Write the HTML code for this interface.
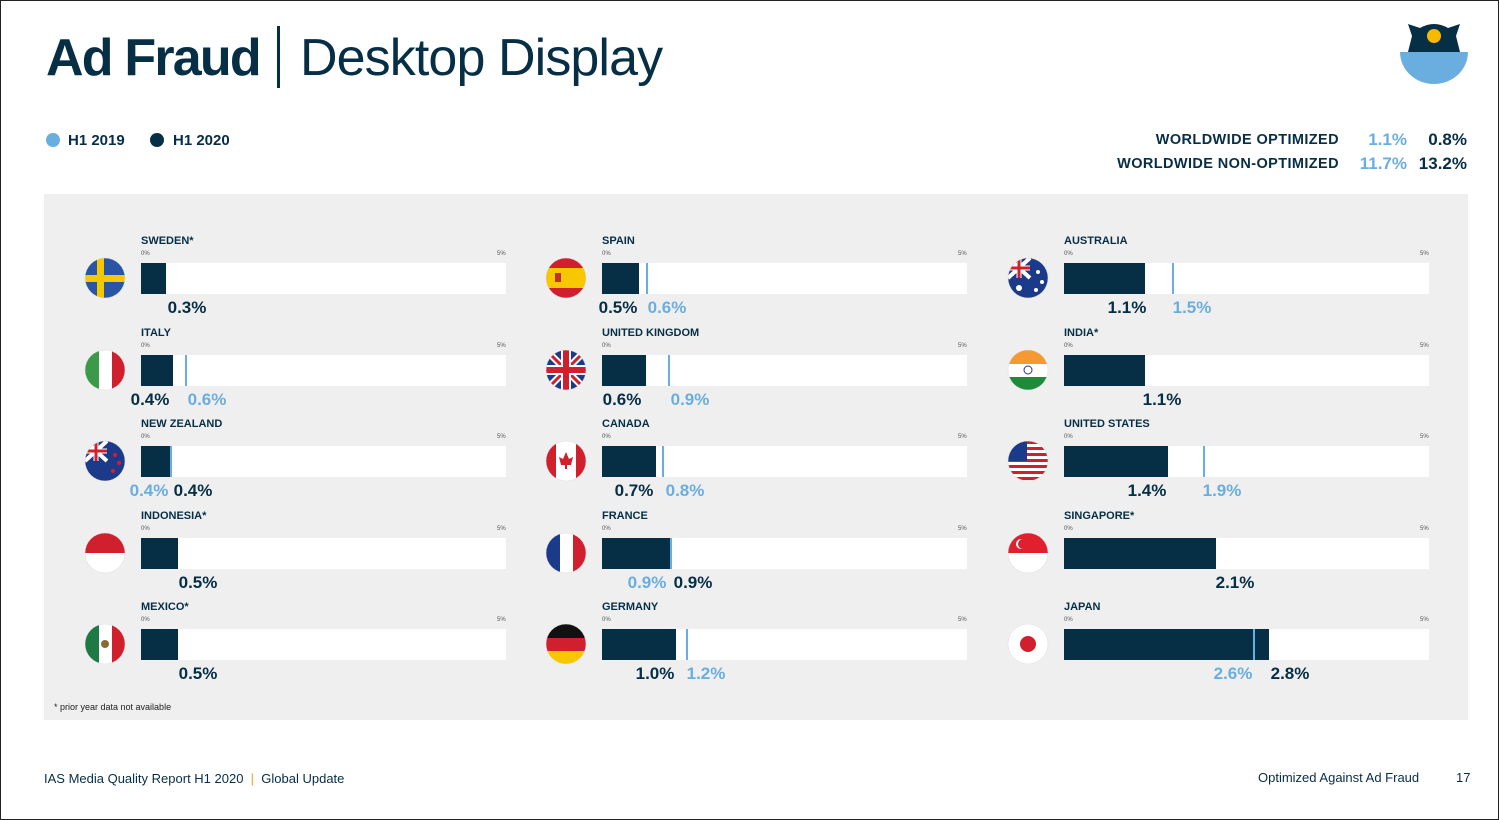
<!DOCTYPE html>
<html><head><meta charset="utf-8"><style>
body{margin:0;width:1499px;height:820px;position:relative;background:#fff;font-family:"Liberation Sans",sans-serif;color:#062e45;overflow:hidden}
.frame{position:absolute;left:0;top:0;width:1497px;height:818px;border:1px solid #222}
.a{position:absolute;white-space:nowrap}
.panel{position:absolute;left:44px;top:194px;width:1424px;height:526px;background:#efefef}
.bar{position:absolute;height:31px;width:365px;background:#fff}
.d{position:absolute;left:0;top:0;height:31px;background:#062e45}
.l{position:absolute;top:0;width:2px;height:31px;background:#6aaee0}
.nm{position:absolute;font-size:11px;font-weight:bold}
.tk{position:absolute;font-size:6px;color:#555}
.v{position:absolute;font-size:17px;font-weight:bold;transform:translateX(-50%)}
.lt{color:#6aaee0}
svg.f{position:absolute}
</style></head><body>
<div class="frame"></div>
<div class="a" style="left:46px;top:28px;font-size:52px;font-weight:bold;letter-spacing:-1.8px">Ad Fraud</div>
<div class="a" style="left:277px;top:26px;width:3px;height:62px;background:#062e45"></div>
<div class="a" style="left:300px;top:28px;font-size:52px;font-weight:normal;letter-spacing:-0.9px">Desktop Display</div>
<svg class="f" style="left:1398px;top:18px" width="72" height="68"><path d="M10 6 L22 10 Q36 2 50 10 L62 6 L58 18 L62 34 L10 34 L14 18Z" fill="#062e45"/><circle cx="36" cy="18" r="7" fill="#f7b900"/><path d="M2 34 H70 A34 32 0 0 1 2 34Z" fill="#6aaee0"/></svg>
<div class="a" style="left:46px;top:133px;width:14px;height:14px;border-radius:50%;background:#6aaee0"></div>
<div class="a" style="left:68px;top:132px;font-size:15px;font-weight:bold">H1 2019</div>
<div class="a" style="left:150px;top:133px;width:14px;height:14px;border-radius:50%;background:#062e45"></div>
<div class="a" style="left:173px;top:132px;font-size:15px;font-weight:bold">H1 2020</div>
<div class="a" style="right:160px;top:132px;font-size:14.5px;font-weight:bold;letter-spacing:0.4px">WORLDWIDE OPTIMIZED</div>
<div class="a" style="right:160px;top:156px;font-size:14.5px;font-weight:bold;letter-spacing:0.4px">WORLDWIDE NON-OPTIMIZED</div>
<div class="a lt" style="right:92px;top:130px;font-size:17px;font-weight:bold">1.1%</div>
<div class="a" style="right:32px;top:130px;font-size:17px;font-weight:bold">0.8%</div>
<div class="a lt" style="right:92px;top:154px;font-size:17px;font-weight:bold">11.7%</div>
<div class="a" style="right:32px;top:154px;font-size:17px;font-weight:bold">13.2%</div>
<div class="panel"></div>
<div id="c"></div>
<div class="a" style="left:54px;top:702px;font-size:9px;color:#222">* prior year data not available</div>
<div class="a" style="left:44px;top:771px;font-size:13px">IAS Media Quality Report H1 2020 &nbsp;<span style="color:#f0a020">|</span>&nbsp; Global Update</div>
<div class="a" style="left:1258px;top:770px;font-size:13px">Optimized Against Ad Fraud</div>
<div class="a" style="left:1456px;top:770px;font-size:13px">17</div>
<script>
const rows=[263,355,446,538,629];
const cols=[141,602,1064];
const fx=[105,566,1028];
const D=[
["SWEDEN*",0,0,166,null,[["0.3%",187,0]],"se"],
["ITALY",0,1,173,186,[["0.4%",150,0],["0.6%",207,1]],"it"],
["NEW ZEALAND",0,2,171,171,[["0.4%",149,1],["0.4%",193,0]],"nz"],
["INDONESIA*",0,3,178,null,[["0.5%",198,0]],"id"],
["MEXICO*",0,4,178,null,[["0.5%",198,0]],"mx"],
["SPAIN",1,0,639,647,[["0.5%",618,0],["0.6%",667,1]],"es"],
["UNITED KINGDOM",1,1,646,669,[["0.6%",622,0],["0.9%",690,1]],"uk"],
["CANADA",1,2,656,663,[["0.7%",634,0],["0.8%",685,1]],"ca"],
["FRANCE",1,3,672,671,[["0.9%",647,1],["0.9%",693,0]],"fr"],
["GERMANY",1,4,676,687,[["1.0%",655,0],["1.2%",706,1]],"de"],
["AUSTRALIA",2,0,1145,1173,[["1.1%",1127,0],["1.5%",1192,1]],"au"],
["INDIA*",2,1,1145,null,[["1.1%",1162,0]],"in"],
["UNITED STATES",2,2,1168,1204,[["1.4%",1147,0],["1.9%",1222,1]],"us"],
["SINGAPORE*",2,3,1216,null,[["2.1%",1235,0]],"sg"],
["JAPAN",2,4,1269,1254,[["2.6%",1233,1],["2.8%",1290,0]],"jp"]];
const UN='<rect width="22" height="20" fill="#1c3a8a"/><path d="M0 0L22 20M22 0L0 20" stroke="#fff" stroke-width="4"/><path d="M11 0V20M0 10H22" stroke="#fff" stroke-width="5"/><path d="M11 0V20M0 10H22" stroke="#d0202e" stroke-width="3"/>';
const F={
se:'<rect width="40" height="40" fill="#2a55a4"/><rect x="12" width="7" height="40" fill="#f7c800"/><rect y="17" width="40" height="7" fill="#f7c800"/>',
it:'<rect width="14" height="40" fill="#3a9a48"/><rect x="14" width="13" height="40" fill="#fff"/><rect x="27" width="13" height="40" fill="#d0202e"/>',
nz:'<rect width="40" height="40" fill="#1c3a8a"/>'+UN+'<circle cx="30" cy="14" r="2" fill="#d0202e"/><circle cx="34" cy="22" r="2" fill="#d0202e"/><circle cx="28" cy="30" r="2" fill="#d0202e"/>',
id:'<rect width="40" height="20" fill="#d0202e"/><rect y="20" width="40" height="20" fill="#fff"/>',
mx:'<rect width="14" height="40" fill="#1e7a44"/><rect x="14" width="13" height="40" fill="#fff"/><rect x="27" width="13" height="40" fill="#d0202e"/><circle cx="20" cy="20" r="4" fill="#8a6a30"/>',
es:'<rect width="40" height="40" fill="#d0202e"/><rect y="10" width="40" height="20" fill="#f7c800"/><rect x="9" y="15" width="6" height="9" fill="#c0302e"/>',
uk:'<rect width="40" height="40" fill="#1c3a8a"/><path d="M0 0L40 40M40 0L0 40" stroke="#fff" stroke-width="7"/><path d="M0 0L40 40M40 0L0 40" stroke="#d0202e" stroke-width="3"/><path d="M20 0V40M0 20H40" stroke="#fff" stroke-width="10"/><path d="M20 0V40M0 20H40" stroke="#d0202e" stroke-width="6"/>',
ca:'<rect width="40" height="40" fill="#fff"/><rect width="10" height="40" fill="#d0202e"/><rect x="30" width="10" height="40" fill="#d0202e"/><path d="M20 11L23 18L27 16L25 24H21V28H19V24H15L13 16L17 18Z" fill="#d0202e"/>',
fr:'<rect width="14" height="40" fill="#1c3a8a"/><rect x="14" width="13" height="40" fill="#fff"/><rect x="27" width="13" height="40" fill="#d0202e"/>',
de:'<rect width="40" height="14" fill="#111"/><rect y="14" width="40" height="13" fill="#d0202e"/><rect y="27" width="40" height="13" fill="#f7c800"/>',
au:'<rect width="40" height="40" fill="#1c3a8a"/>'+UN+'<circle cx="30" cy="14" r="2" fill="#fff"/><circle cx="34" cy="24" r="2" fill="#fff"/><circle cx="28" cy="32" r="2" fill="#fff"/><circle cx="11" cy="30" r="3" fill="#fff"/>',
in:'<rect width="40" height="14" fill="#f59a30"/><rect y="14" width="40" height="13" fill="#fff"/><rect y="27" width="40" height="13" fill="#1e8a3a"/><circle cx="20" cy="20" r="4" fill="none" stroke="#1c3a8a"/>',
us:'<rect width="40" height="40" fill="#fff"/>'+[0,6,12,18,24,30,36].map(y=>`<rect y="${y}" width="40" height="3" fill="#d0202e"/>`).join('')+'<rect width="19" height="20" fill="#1c3a8a"/>',
sg:'<rect width="40" height="20" fill="#e0202e"/><rect y="20" width="40" height="20" fill="#fff"/><circle cx="13" cy="11" r="5" fill="#fff"/><circle cx="15" cy="11" r="5" fill="#e0202e"/>',
jp:'<rect width="40" height="40" fill="#fff"/><circle cx="20" cy="20" r="8" fill="#d0202e"/>'};
let h='';
D.forEach((r,k)=>{const x0=cols[r[1]],y=rows[r[2]];
h+=`<div class="nm" style="left:${x0}px;top:${y-28}px">${r[0]}</div><div class="tk" style="left:${x0}px;top:${y-12}px">0%</div><div class="tk" style="left:${x0+356}px;top:${y-12}px">5%</div>`;
h+=`<div class="bar" style="left:${x0}px;top:${y}px"><div class="d" style="width:${r[3]-x0}px"></div>${r[4]?`<div class="l" style="left:${r[4]-x0-1}px"></div>`:''}</div>`;
r[5].forEach(v=>{h+=`<div class="v${v[2]?' lt':''}" style="left:${v[1]}px;top:${y+35}px">${v[0]}</div>`});
h+=`<svg class="f" style="left:${fx[r[1]]-21}px;top:${y-6}px" width="42" height="42" viewBox="-1 -1 42 42"><defs><clipPath id="c${k}"><circle cx="20" cy="20" r="20"/></clipPath></defs><g clip-path="url(#c${k})">${F[r[6]]}</g><circle cx="20" cy="20" r="20" fill="none" stroke="#ddd" stroke-width="0.5"/></svg>`;
});
document.getElementById('c').innerHTML=h;
</script>
</body></html>
